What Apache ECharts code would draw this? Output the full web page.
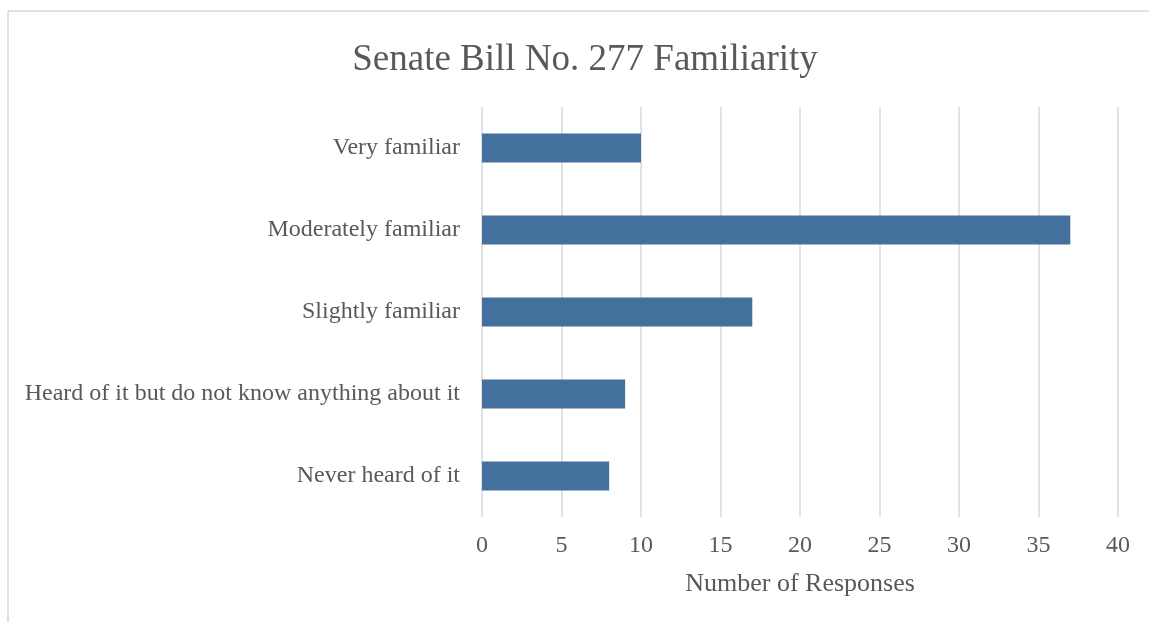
<!DOCTYPE html>
<html>
<head>
<meta charset="utf-8">
<script src="https://cdn.jsdelivr.net/npm/echarts@6/dist/echarts.min.js"></script>
<style>
html,body{margin:0;padding:0;background:#fff;}
#chart{width:1149px;height:622px;}
</style>
</head>
<body>
<div id="chart"></div>
<script>
const categories = ["Very familiar", "Moderately familiar", "Slightly familiar", "Heard of it but do not know anything about it", "Never heard of it"];
const responses = [10, 37, 17, 9, 8];
const titleText = "Senate Bill No. 277 Familiarity";
const xAxisName = "Number of Responses";

const chart = echarts.init(document.getElementById('chart'));
const font = "'Liberation Serif', 'Times New Roman', serif";
chart.setOption({
  animation: false,
  backgroundColor: '#fff',
  title: {
    text: titleText,
    left: 580, top: 37, textAlign: 'center',
    textStyle: {fontFamily: font, fontSize: 37, fontWeight: 'normal', color: '#595959'}
  },
  graphic: [
    {type: 'line', shape: {x1: 8, y1: 11, x2: 1149, y2: 11}, style: {stroke: '#d9d9d9', lineWidth: 1.5}},
    {type: 'line', shape: {x1: 8, y1: 11, x2: 8, y2: 622}, style: {stroke: '#d9d9d9', lineWidth: 1.5}}
  ],
  grid: {left: 482, right: 31, top: 107, bottom: 105},
  xAxis: {
    type: 'value', min: 0, max: 40, interval: 5,
    name: xAxisName, nameLocation: 'middle', nameGap: 54,
    nameTextStyle: {fontFamily: font, fontSize: 26, color: '#595959'},
    axisLine: {show: false}, axisTick: {show: false},
    axisLabel: {fontFamily: font, fontSize: 24, color: '#595959', margin: 17},
    splitLine: {lineStyle: {color: '#d9d9d9', width: 1.5}}
  },
  yAxis: {
    type: 'category', data: categories, inverse: true,
    axisLine: {show: false}, axisTick: {show: false},
    axisLabel: {fontFamily: font, fontSize: 24, color: '#595959', margin: 22}
  },
  series: [{
    type: 'bar', data: responses, barWidth: 29,
    itemStyle: {color: '#44709d'}
  }]
});
</script>
</body>
</html>
